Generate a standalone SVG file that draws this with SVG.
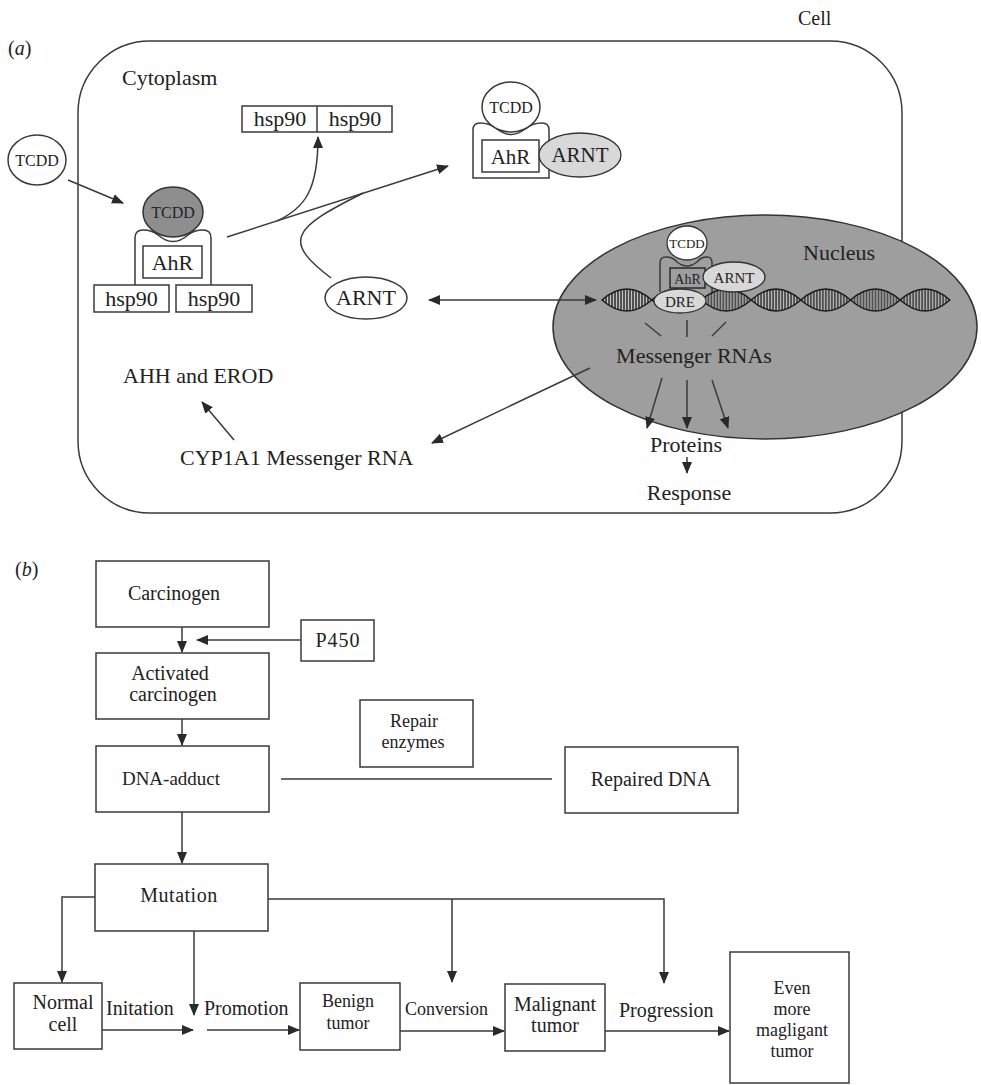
<svg xmlns="http://www.w3.org/2000/svg" width="981" height="1085" viewBox="0 0 981 1085">
  <style>
    text { font-family: "Liberation Serif", "Times New Roman", serif; fill: #222; }
    .t22 { font-size: 22px; }
    .t20 { font-size: 20px; }
    .t19 { font-size: 19px; }
    .t18 { font-size: 18px; }
    .mid { text-anchor: middle; }
    .box { fill: none; stroke: #3a3a3a; stroke-width: 1.5; }
    .wbox { fill: #ffffff; stroke: #3a3a3a; stroke-width: 1.5; }
    .line { fill: none; stroke: #3a3a3a; stroke-width: 1.5; }
    .arr { fill: none; stroke: #3a3a3a; stroke-width: 1.5; marker-end: url(#head); }
    .helix { fill: url(#hatch); stroke: #1a1a1a; stroke-width: 1.4; }
  </style>
  <defs>
    <marker id="head" viewBox="0 0 12 10" refX="11" refY="5" markerWidth="12" markerHeight="10" markerUnits="userSpaceOnUse" orient="auto">
      <path d="M0,0 L12,5 L0,10 Z" fill="#2a2a2a"/>
    </marker>
    <marker id="tail" viewBox="0 0 12 10" refX="1" refY="5" markerWidth="12" markerHeight="10" markerUnits="userSpaceOnUse" orient="auto">
      <path d="M12,0 L0,5 L12,10 Z" fill="#2a2a2a"/>
    </marker>
    <!-- vertical base-pair rungs inside each helix turn -->
    <pattern id="hatch" width="3" height="4" patternUnits="userSpaceOnUse">
      <rect width="3" height="4" fill="#c4c4c4"/>
      <line x1="1" y1="0" x2="1" y2="4" stroke="#111" stroke-width="1.3"/>
    </pattern>
    <path id="lobe" d="M0,0 Q24.85,-22 49.7,0 Q24.85,22 0,0 Z"/>
  </defs>

  <rect width="981" height="1085" fill="#ffffff"/>

  <!-- ===== Part (a): TCDD signalling in the cell ===== -->
  <text class="t20" x="8" y="55">(<tspan font-style="italic">a</tspan>)</text>
  <text class="t20" x="798" y="25">Cell</text>

  <g id="cell">
    <rect x="78" y="41" width="824" height="472" rx="72" ry="72" class="box"/>
    <text class="t22" x="122" y="85">Cytoplasm</text>
  </g>

  <g id="nucleus">
    <ellipse cx="765" cy="327" rx="212" ry="112" fill="#9e9e9e" stroke="#333" stroke-width="1.5"/>
    <text class="t22" x="803" y="260">Nucleus</text>
  </g>

  <g id="dna">
    <use href="#lobe" x="602" y="300" class="helix"/>
    <use href="#lobe" x="651.7" y="300" class="helix"/>
    <use href="#lobe" x="701.4" y="300" class="helix"/>
    <use href="#lobe" x="751.1" y="300" class="helix"/>
    <use href="#lobe" x="800.8" y="300" class="helix"/>
    <use href="#lobe" x="850.5" y="300" class="helix"/>
    <use href="#lobe" x="900.2" y="300" class="helix"/>
  </g>

  <g id="nuclear-complex">
    <path d="M660,292 L660,263 Q660,257 666,257 Q673,257 677,262 Q687,270 697,262 Q701,257 707,257 Q712,257 712,263 L712,292" class="line"/>
    <rect x="670" y="268" width="35" height="20" fill="none" stroke="#2a2a2a" stroke-width="1.5"/>
    <text x="687.5" y="284" class="mid" font-size="14">AhR</text>
    <ellipse cx="734" cy="277" rx="31" ry="15" fill="#d8d8d8" stroke="#333" stroke-width="1.3"/>
    <text x="734" y="283" class="mid" font-size="15">ARNT</text>
    <ellipse cx="687" cy="243" rx="20" ry="17" fill="#ffffff" stroke="#333" stroke-width="1.3"/>
    <text x="687" y="248" class="mid" font-size="13">TCDD</text>
    <ellipse cx="680" cy="301" rx="26" ry="12" fill="#d8d8d8" stroke="#333" stroke-width="1.3"/>
    <text x="680" y="307" class="mid" font-size="15">DRE</text>
  </g>

  <g id="tcdd-free">
    <ellipse cx="37" cy="160" rx="29" ry="25" class="wbox"/>
    <text x="37" y="166" class="mid" font-size="16">TCDD</text>
  </g>

  <g id="ahr-hsp90-complex">
    <path d="M135,285 L135,238 Q135,230 143,230 Q152,230 158,235 Q173,248 188,235 Q194,230 203,230 Q211,230 211,238 L211,285" class="line"/>
    <ellipse cx="173" cy="212" rx="30" ry="25" fill="#8e8e8e" stroke="#333" stroke-width="1.5"/>
    <text x="173" y="218" class="mid" font-size="16">TCDD</text>
    <rect x="143" y="246" width="59" height="32" class="box"/>
    <text x="172.5" y="270" class="mid t22">AhR</text>
    <rect x="94" y="285" width="75" height="27" class="wbox"/>
    <text x="131.5" y="306" class="mid t22">hsp90</text>
    <rect x="176" y="285" width="76" height="27" class="wbox"/>
    <text x="214" y="306" class="mid t22">hsp90</text>
  </g>

  <g id="hsp90-released">
    <rect x="242" y="106" width="150" height="26" class="box"/>
    <line x1="317" y1="106" x2="317" y2="132" class="line"/>
    <text x="280" y="126" class="mid t22">hsp90</text>
    <text x="355" y="126" class="mid t22">hsp90</text>
  </g>

  <g id="arnt-free">
    <ellipse cx="366" cy="298" rx="41" ry="21" class="wbox"/>
    <text x="366" y="305" class="mid t22">ARNT</text>
  </g>

  <g id="ahr-arnt-complex">
    <path d="M473,178 L473,130 Q473,123 480,123 Q490,123 497,129 Q511,140 525,129 Q532,123 542,123 Q549,123 549,130 L549,178 Z" class="wbox"/>
    <rect x="482" y="140" width="57" height="32" class="box"/>
    <text x="510.5" y="164" class="mid" font-size="21">AhR</text>
    <ellipse cx="511" cy="107" rx="29" ry="25" class="wbox"/>
    <text x="511" y="113" class="mid" font-size="16">TCDD</text>
    <ellipse cx="580" cy="155" rx="41" ry="22" fill="#d8d8d8" stroke="#333" stroke-width="1.3"/>
    <text x="580" y="162" class="mid" font-size="21">ARNT</text>
  </g>

  <g id="labels-a">
    <text class="t22 mid" x="694" y="363">Messenger RNAs</text>
    <text class="t22 mid" x="686" y="452">Proteins</text>
    <text class="t22 mid" x="689" y="500">Response</text>
    <text class="t22" x="123" y="383">AHH and EROD</text>
    <text class="t22" x="180" y="465">CYP1A1 Messenger RNA</text>
  </g>

  <g id="connectors-a">
    <line x1="68" y1="180" x2="123" y2="203" class="arr"/>
    <line x1="227" y1="237" x2="448" y2="166" class="arr"/>
    <path d="M277,221 C305,208 318,190 318,137" class="arr"/>
    <path d="M331,278 C310,262 296,248 302,235 C308,220 340,205 363,193" class="line"/>
    <line x1="429" y1="300" x2="596" y2="300" class="arr" marker-start="url(#tail)"/>
    <line x1="645" y1="323" x2="661" y2="336" class="line"/>
    <line x1="687" y1="320" x2="687" y2="337" class="line"/>
    <line x1="726" y1="322" x2="712" y2="336" class="line"/>
    <line x1="662" y1="378" x2="647" y2="428" class="arr"/>
    <line x1="687" y1="380" x2="687" y2="428" class="arr"/>
    <line x1="712" y1="380" x2="728" y2="428" class="arr"/>
    <line x1="687" y1="457" x2="687" y2="473" class="arr"/>
    <line x1="590" y1="368" x2="432" y2="443" class="arr"/>
    <line x1="234" y1="440" x2="202" y2="402" class="arr"/>
  </g>

  <!-- ===== Part (b): carcinogenesis steps ===== -->
  <text class="t20" x="15" y="576">(<tspan font-style="italic">b</tspan>)</text>

  <g id="carcinogen">
    <rect x="96" y="561" width="173" height="66" class="box"/>
    <text class="t20 mid" x="174" y="600">Carcinogen</text>
  </g>
  <g id="p450">
    <rect x="301" y="620" width="73" height="41" class="box"/>
    <text class="t20 mid" x="338" y="647" letter-spacing="1">P450</text>
  </g>
  <g id="activated-carcinogen">
    <rect x="96" y="653" width="173" height="66" class="box"/>
    <text class="t20 mid" x="170" y="680">Activated</text>
    <text class="t20 mid" x="173" y="701">carcinogen</text>
  </g>
  <g id="repair-enzymes">
    <rect x="360" y="700" width="113" height="67" class="box"/>
    <text class="t18 mid" x="414" y="727">Repair</text>
    <text class="t18 mid" x="413" y="748">enzymes</text>
  </g>
  <g id="dna-adduct">
    <rect x="96" y="746" width="173" height="66" class="box"/>
    <text class="t19 mid" x="171" y="785">DNA-adduct</text>
  </g>
  <g id="repaired-dna">
    <rect x="565" y="747" width="173" height="66" class="box"/>
    <text class="t20 mid" x="651" y="786">Repaired DNA</text>
  </g>
  <g id="mutation">
    <rect x="95" y="864" width="173" height="67" class="box"/>
    <text class="t20 mid" x="179" y="902" letter-spacing="0.5">Mutation</text>
  </g>
  <g id="normal-cell">
    <rect x="14" y="983" width="88" height="66" class="box"/>
    <text class="t20 mid" x="63" y="1009">Normal</text>
    <text class="t20 mid" x="63" y="1031">cell</text>
  </g>
  <g id="benign-tumor">
    <rect x="300" y="983" width="100" height="67" class="box"/>
    <text class="t18 mid" x="348" y="1007">Benign</text>
    <text class="t18 mid" x="348" y="1029">tumor</text>
  </g>
  <g id="malignant-tumor">
    <rect x="505" y="984" width="100" height="67" class="box"/>
    <text class="t20 mid" x="555" y="1011">Malignant</text>
    <text class="t20 mid" x="555" y="1032">tumor</text>
  </g>
  <g id="even-more-malignant">
    <rect x="730" y="952" width="119" height="131" class="box"/>
    <text class="t18 mid" x="792" y="994">Even</text>
    <text class="t18 mid" x="792" y="1015">more</text>
    <text class="t18 mid" x="792" y="1036">magligant</text>
    <text class="t18 mid" x="792" y="1057">tumor</text>
  </g>

  <g id="labels-b">
    <text class="t20" x="106" y="1015">Initation</text>
    <text class="t20" x="204" y="1015">Promotion</text>
    <text class="t18" x="405" y="1015">Conversion</text>
    <text class="t20" x="619" y="1017">Progression</text>
  </g>

  <g id="connectors-b">
    <line x1="182" y1="627" x2="182" y2="652" class="arr"/>
    <line x1="301" y1="640" x2="197" y2="640" class="arr"/>
    <line x1="182" y1="719" x2="182" y2="745" class="arr"/>
    <line x1="182" y1="812" x2="182" y2="863" class="arr"/>
    <line x1="281" y1="779" x2="552" y2="779" class="line"/>
    <path d="M95,897 H62 V982" class="arr"/>
    <line x1="194" y1="931" x2="194" y2="1015" class="arr"/>
    <path d="M268,899 H664 V983" class="arr"/>
    <line x1="452" y1="899" x2="452" y2="982" class="arr"/>
    <line x1="102" y1="1030" x2="193" y2="1030" class="arr"/>
    <line x1="207" y1="1030" x2="299" y2="1030" class="arr"/>
    <line x1="400" y1="1031" x2="504" y2="1031" class="arr"/>
    <line x1="605" y1="1031" x2="729" y2="1031" class="arr"/>
  </g>
</svg>
